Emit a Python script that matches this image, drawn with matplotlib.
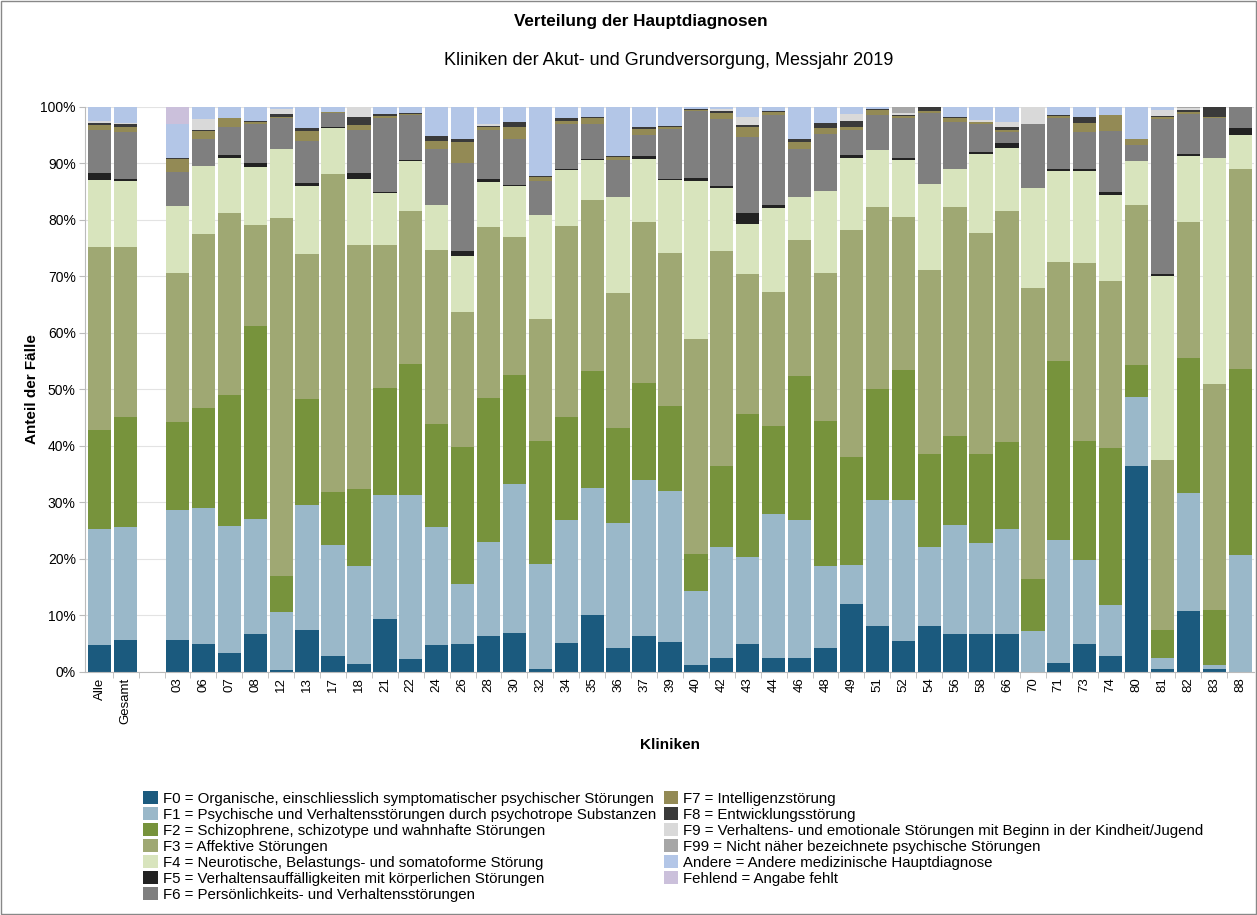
import matplotlib

matplotlib.use("Agg")
import matplotlib.pyplot as plt
import numpy as np
from matplotlib.patches import Patch, Rectangle
from matplotlib.ticker import FuncFormatter, FixedLocator

plt.rcParams["font.family"] = ["Liberation Sans", "DejaVu Sans"]

clinics = ["Alle", "Gesamt", "", "03", "06", "07", "08", "12", "13", "17", "18", "21", "22",
           "24", "26", "28", "30", "32", "34", "35", "36", "37", "39", "40", "42", "43", "44",
           "46", "48", "49", "51", "52", "54", "56", "58", "66", "70", "71", "73", "74", "80",
           "81", "82", "83", "88"]

# share of cases in percent, one value per clinic (blank spacer = 0)
f0 = [4.8, 5.7, 0, 5.6, 4.9, 3.3, 6.8, 0.3, 7.4, 2.9, 1.5, 9.3, 2.3, 4.7, 4.9, 6.3, 6.9, 0.5,
      5.1, 10.1, 4.3, 6.4, 5.3, 1.2, 2.5, 4.9, 2.4, 2.5, 4.3, 12.0, 8.1, 5.5, 8.1, 6.7, 6.7,
      6.7, 0, 1.6, 4.9, 2.9, 36.5, 0.5, 10.8, 0.5, 0]
f1 = [20.5, 20.0, 0, 23.0, 24.1, 22.5, 20.3, 10.3, 22.2, 19.6, 17.2, 22.0, 29.0, 20.9, 10.7,
      16.7, 26.4, 18.6, 21.8, 22.4, 22.1, 27.5, 26.8, 13.1, 19.6, 15.4, 25.5, 24.4, 14.4, 6.9,
      22.3, 24.9, 14.0, 19.4, 16.2, 18.6, 7.3, 21.8, 15.0, 8.9, 12.2, 2.0, 20.8, 0.8, 20.7]
f2 = [17.6, 19.5, 0, 15.6, 17.7, 23.3, 34.1, 6.4, 18.7, 9.4, 13.6, 19.0, 23.2, 18.3, 24.3,
      25.5, 19.3, 21.7, 18.2, 20.8, 16.7, 17.3, 14.9, 6.6, 14.4, 25.3, 15.6, 25.5, 25.7, 19.2,
      19.7, 23.1, 16.5, 15.7, 15.6, 15.4, 9.2, 31.7, 21.0, 27.8, 5.6, 5.0, 24.0, 9.6, 32.9]
f3 = [32.4, 30.1, 0, 26.4, 30.8, 32.2, 17.9, 63.4, 25.6, 56.2, 43.2, 25.3, 27.1, 30.8, 23.8,
      30.2, 24.3, 21.7, 33.8, 30.3, 24.0, 28.4, 27.1, 38.1, 38.0, 24.8, 23.7, 24.0, 26.3, 40.2,
      32.2, 27.0, 32.5, 40.5, 39.2, 40.9, 51.5, 17.4, 31.5, 29.6, 28.3, 30.1, 24.1, 40.0, 35.5]
f4 = [11.8, 11.6, 0, 11.8, 12.0, 9.7, 10.2, 12.1, 12.2, 8.2, 11.7, 9.1, 8.9, 7.9, 9.9, 8.0,
      9.2, 18.3, 9.9, 7.1, 16.9, 11.2, 13.0, 27.9, 11.2, 8.9, 14.9, 7.6, 14.4, 12.7, 10.0,
      10.2, 15.2, 6.7, 13.9, 11.1, 17.6, 16.1, 16.3, 15.3, 7.8, 32.5, 11.6, 40.0, 6.0]
f5 = [1.2, 0.4, 0, 0.1, 0.1, 0.5, 0.7, 0, 0.4, 0.1, 1.1, 0.2, 0.1, 0.1, 0.9, 0.6, 0.1, 0.1,
      0.3, 0.1, 0.1, 0.5, 0.1, 0.6, 0.4, 2.0, 0.6, 0.1, 0.1, 0.5, 0.1, 0.2, 0.1, 0.1, 0.5, 0.9,
      0.1, 0.5, 0.4, 0.4, 0.1, 0.4, 0.3, 0.1, 1.2]
f6 = [7.6, 8.2, 0, 6.0, 4.7, 5.0, 6.9, 5.5, 7.4, 2.6, 7.7, 13.1, 7.9, 9.9, 15.6, 8.7, 8.1, 6.0,
      7.8, 6.1, 6.6, 3.8, 8.9, 11.8, 11.8, 13.3, 15.8, 8.4, 10.0, 4.5, 6.1, 7.2, 12.6, 8.2, 4.8,
      1.9, 11.2, 8.9, 6.4, 10.8, 2.8, 27.4, 7.1, 7.1, 3.7]
f7 = [0.9, 1.0, 0, 2.3, 1.4, 1.5, 0.4, 0.2, 1.8, 0.1, 0.8, 0.4, 0.2, 1.4, 3.7, 0.4, 2.2, 0.7,
      0.7, 1.1, 0.4, 1.0, 0.3, 0.2, 1.1, 1.9, 0.6, 1.3, 1.1, 0.4, 1.0, 0.3, 0.2, 0.7, 0.4, 0.5,
      0, 0.4, 1.7, 2.8, 1.0, 0.4, 0.4, 0.1, 0]
f8 = [0.4, 0.4, 0, 0.2, 0.3, 0.1, 0.2, 0.6, 0.6, 0, 1.5, 0.3, 0.2, 0.9, 0.6, 0.3, 0.8, 0.1,
      0.4, 0.3, 0.2, 0.3, 0.2, 0.2, 0.3, 0.3, 0.1, 0.5, 0.9, 1.1, 0.2, 0.1, 0.8, 0.3, 0.1, 0.4,
      0, 0.1, 1.1, 0.1, 0, 0.1, 0.4, 1.8, 0]
f9 = [0.3, 0.3, 0, 0, 1.8, 0, 0, 0.9, 0, 0, 1.7, 0, 0, 0, 0, 0.3, 0, 0, 0, 0, 0, 0, 0, 0,
      0.3, 1.5, 0, 0, 0, 1.3, 0, 0.5, 0, 0, 0.3, 0.9, 3.1, 0, 0, 0, 0, 1.1, 0.3, 0, 0]
f99 = [0, 0, 0, 0, 0, 0, 0, 0, 0, 0, 0, 0, 0, 0, 0, 0, 0, 0, 0, 0, 0, 0, 0, 0, 0, 0, 0, 0, 0,
       0, 0, 1.0, 0, 0, 0, 0, 0, 0, 0, 0, 0, 0, 0.2, 0, 0]
andere = [2.5, 2.8, 0, 5.9, 2.2, 1.9, 2.5, 0.3, 3.7, 0.9, 0, 1.3, 1.1, 5.1, 5.6, 3.0, 2.7, 12.3,
          2.0, 1.7, 8.7, 3.6, 3.4, 0.3, 0.4, 1.7, 0.8, 5.7, 2.8, 1.2, 0.3, 0, 0, 1.7, 2.3, 2.7,
          0, 1.5, 1.7, 1.4, 5.7, 0.5, 0, 0, 0]
fehlend = [0, 0, 0, 3.1] + [0] * 41

series = [f0, f1, f2, f3, f4, f5, f6, f7, f8, f9, f99, andere, fehlend]
labels = [
    "F0 = Organische, einschliesslich symptomatischer psychischer Störungen",
    "F1 = Psychische und Verhaltensstörungen durch psychotrope Substanzen",
    "F2 = Schizophrene, schizotype und wahnhafte Störungen",
    "F3 = Affektive Störungen",
    "F4 = Neurotische, Belastungs- und somatoforme Störung",
    "F5 = Verhaltensauffälligkeiten mit körperlichen Störungen",
    "F6 = Persönlichkeits- und Verhaltensstörungen",
    "F7 = Intelligenzstörung",
    "F8 = Entwicklungsstörung",
    "F9 = Verhaltens- und emotionale Störungen mit Beginn in der Kindheit/Jugend",
    "F99 = Nicht näher bezeichnete psychische Störungen",
    "Andere = Andere medizinische Hauptdiagnose",
    "Fehlend = Angabe fehlt",
]
colors = ["#1b5a7e", "#9ab8c9", "#77933c", "#9fa873", "#d8e4bd", "#222222", "#7f7f7f",
          "#938a55", "#3a3a3a", "#d9d9d9", "#a6a6a6", "#b3c6e7", "#cbc0db"]

fig = plt.figure(figsize=(12.57, 9.15), dpi=100)
ax = fig.add_axes([0.068, 0.2656, 0.93, 0.6175])

x = np.arange(len(clinics))
bottom = np.zeros(len(clinics))
for vals, col in zip(series, colors):
    v = np.array(vals, dtype=float) / 100
    ax.bar(x, v, bottom=bottom, width=0.9, color=col, linewidth=0, zorder=2)
    bottom += v

ax.set_xlim(-0.55, len(clinics) - 0.45)
ax.set_ylim(0, 1)
ax.set_yticks(np.arange(0, 1.01, 0.1))
ax.yaxis.set_major_formatter(FuncFormatter(lambda v, _: f"{v * 100:.0f}%"))
ax.grid(axis="y", color="#e3e3e3", linewidth=0.8, zorder=0)
ax.set_axisbelow(True)

ax.set_xticks(x)
ax.set_xticklabels(clinics, rotation=90, fontsize=9.5)
ax.tick_params(axis="x", length=0, pad=4)
ax.xaxis.set_minor_locator(FixedLocator(x[:-1] + 0.5))
ax.tick_params(axis="x", which="minor", length=4, color="#bbbbbb")
ax.tick_params(axis="y", labelsize=10, length=4, color="#bbbbbb", pad=3)

for s in ("top", "right"):
    ax.spines[s].set_visible(False)
ax.spines["left"].set_color("#bbbbbb")
ax.spines["bottom"].set_color("#bbbbbb")

ax.set_ylabel("Anteil der Fälle", fontsize=11, fontweight="bold", labelpad=1)
ax.set_xlabel("Kliniken", fontsize=11, fontweight="bold", labelpad=10)

fig.text(0.51, 0.976, "Verteilung der Hauptdiagnosen", ha="center", va="center",
         fontsize=12.3, fontweight="bold")
fig.text(0.532, 0.934, "Kliniken der Akut- und Grundversorgung, Messjahr 2019",
         ha="center", va="center", fontsize=13)

handles = [Patch(facecolor=c, edgecolor="none") for c in colors]
fig.legend(handles, labels, ncol=2, loc="upper left", bbox_to_anchor=(0.108, 0.1435),
           frameon=False, fontsize=10.8, handlelength=0.95, handleheight=0.95,
           handletextpad=0.35, columnspacing=0.5, labelspacing=0.09, borderpad=0)

fig.add_artist(Rectangle((0.001, 0.001), 0.998, 0.998, transform=fig.transFigure,
                         fill=False, edgecolor="#888888", linewidth=1))

fig.savefig("out.png", dpi=100)
